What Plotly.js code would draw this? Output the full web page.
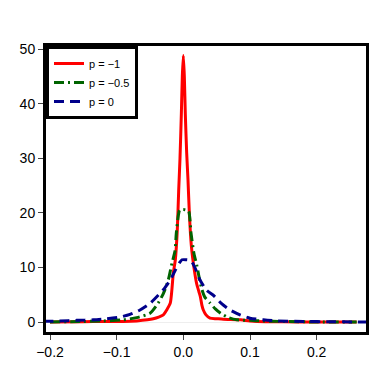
<!DOCTYPE html>
<html>
<head>
<meta charset="utf-8">
<script src="https://cdn.plot.ly/plotly-3.0.1.min.js"></script>
<style>
  body { margin: 0; background: #fff; }
  #chart { width: 390px; height: 390px; }
</style>
</head>
<body>
<div id="chart"></div>
<script>
// series (density curves for three p values)
const seriesNames = ['p = \u22121', 'p = \u22120.5', 'p = 0'];

const redX = [-0.2, -0.15, -0.12, -0.09, -0.07, -0.054, -0.045, -0.037, -0.03, -0.025, -0.0195, -0.015, -0.012, -0.009, -0.007, -0.005, -0.003, -0.0015, 0, 0.0015, 0.003, 0.005, 0.007, 0.009, 0.012, 0.0165, 0.02, 0.0235, 0.0256, 0.028, 0.03, 0.034, 0.04, 0.05, 0.06, 0.086, 0.1, 0.123, 0.15, 0.2, 0.26];
const redY = [0, 0.05, 0.1, 0.1, 0.2, 0.4, 0.6, 0.9, 1.3, 2.2, 3.5, 9, 11.4, 17, 24, 30, 38, 45, 48.8, 45, 38, 31, 26, 20, 14, 9.5, 7, 5.5, 4.6, 3, 2.2, 1.3, 0.7, 0.6, 0.5, 0.4, 0.2, 0.05, 0.05, 0, 0];

const greenX = [-0.2, -0.15, -0.12, -0.09, -0.07, -0.05, -0.0376, -0.03, -0.0226, -0.017, -0.0125, -0.0105, -0.0075, -0.0055, 0, 0.004, 0.008, 0.0115, 0.016, 0.02, 0.024, 0.028, 0.032, 0.04, 0.048, 0.056, 0.068, 0.08, 0.1, 0.116, 0.15, 0.2, 0.26];
const greenY = [0, 0.1, 0.2, 0.4, 0.8, 1.6, 3.5, 5.2, 7.7, 10.8, 13, 16.3, 19.5, 20.5, 20.6, 20.5, 20.3, 16.3, 12.5, 10.5, 8, 5.9, 4.6, 3.5, 2.4, 1.6, 0.8, 0.4, 0.3, 0.2, 0.1, 0, 0];

const blueX = [-0.21, -0.185, -0.16, -0.135, -0.115, -0.095, -0.08, -0.065, -0.05, -0.0346, -0.03, -0.0195, -0.012, -0.006, -0.002, 0.004, 0.01, 0.013, 0.018, 0.025, 0.035, 0.045, 0.057, 0.07, 0.085, 0.1, 0.12, 0.14, 0.18, 0.22, 0.275];
const blueY = [0.1, 0.2, 0.3, 0.4, 0.6, 0.9, 1.4, 2.2, 3.4, 5.3, 5.9, 7.7, 9.5, 10.8, 11.4, 11.4, 11.3, 11, 9.8, 7.7, 5.8, 4.9, 3.4, 2.2, 1.3, 0.7, 0.4, 0.2, 0.1, 0.05, 0];

const xTicks = [-0.2, -0.1, 0, 0.1, 0.2];
const xTickText = ['\u22120.2', '\u22120.1', '0.0', '0.1', '0.2'];
const yTicks = [0, 10, 20, 30, 40, 50];

const traces = [
    {
        x: redX, y: redY, name: seriesNames[0],
        type: 'scatter', mode: 'lines',
        line: { color: '#ff0000', width: 3, shape: 'spline', smoothing: 0.6 }
    },
    {
        x: greenX, y: greenY, name: seriesNames[1],
        type: 'scatter', mode: 'lines',
        line: { color: '#006400', width: 3, dash: '10px,4px,2px,4px', shape: 'spline', smoothing: 0.6 }
    },
    {
        x: blueX, y: blueY, name: seriesNames[2],
        type: 'scatter', mode: 'lines',
        line: { color: '#00008b', width: 3, dash: '10px,6px', shape: 'spline', smoothing: 0.6 }
    }
];

const axisCommon = {
    showline: true,
    mirror: true,
    linecolor: '#000',
    linewidth: 3,
    ticks: 'outside',
    ticklen: 5,
    tickcolor: '#444',
    tickwidth: 1,
    showgrid: false,
    tickfont: { family: '"Liberation Sans", Arial, sans-serif', size: 14, color: '#000' }
};

const layout = {
    width: 390,
    height: 390,
    margin: { l: 46, r: 24, t: 46, b: 58 },
    paper_bgcolor: '#fff',
    plot_bgcolor: '#fff',
    showlegend: true,
    legend: {
        x: 0, y: 1, xanchor: 'left', yanchor: 'top',
        bgcolor: '#fff',
        bordercolor: '#000',
        borderwidth: 3,
        font: { family: '"Liberation Sans", Arial, sans-serif', size: 11, color: '#000' },
        itemwidth: 30,
        tracegroupgap: 0
    },
    xaxis: Object.assign({}, axisCommon, {
        range: [-0.206, 0.274],
        tickvals: xTicks,
        ticktext: xTickText,
        zeroline: false
    }),
    yaxis: Object.assign({}, axisCommon, {
        range: [-1.83, 50.55],
        tickvals: yTicks,
        zeroline: true,
        zerolinecolor: '#eeeeee',
        zerolinewidth: 1
    })
};

Plotly.newPlot('chart', traces, layout, { displayModeBar: false, staticPlot: true });
</script>
</body>
</html>
